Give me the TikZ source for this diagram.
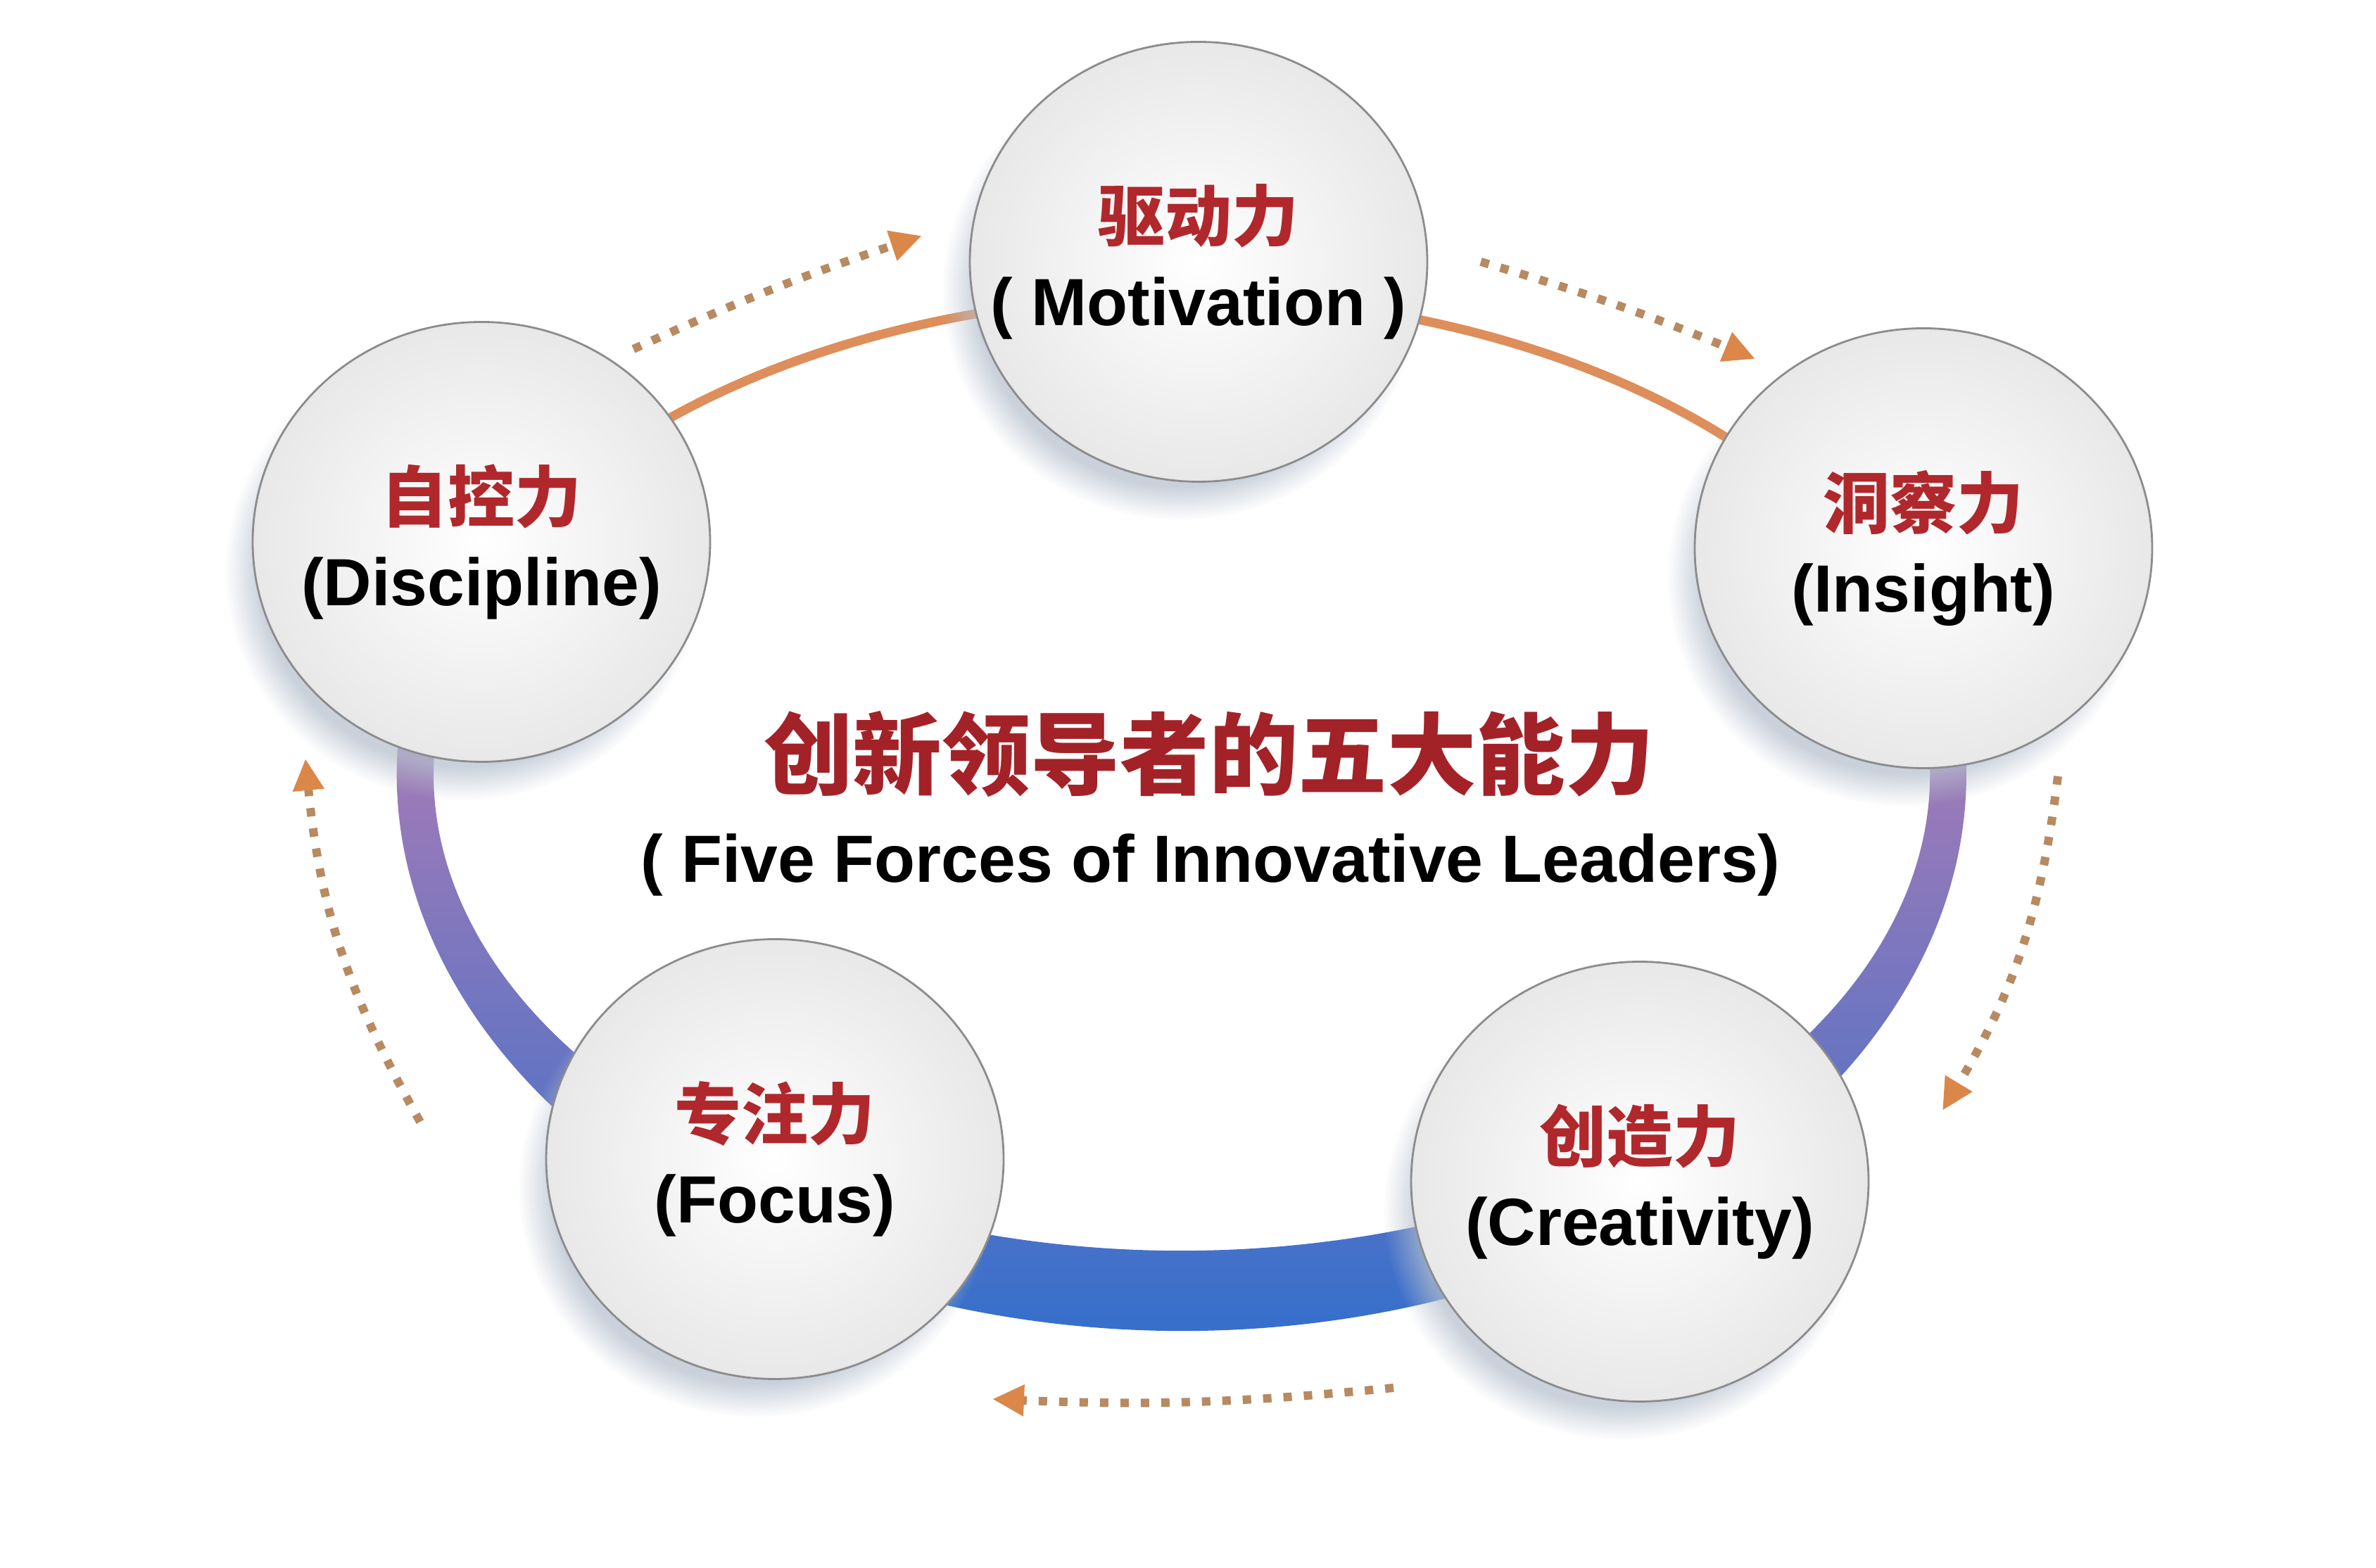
\documentclass[tikz,border=0pt]{standalone}
\usepackage{fontspec}
\setmainfont{Liberation Sans}
\newfontfamily\cjk{Noto Sans CJK SC}
\usepackage{xcolor}
\usetikzlibrary{calc,shapes.geometric,arrows.meta,shadows}
\definecolor{labelred}{HTML}{B0282C}
\definecolor{titlered}{HTML}{A32228}
\definecolor{ringorange}{HTML}{DE8E5A}
\definecolor{bandtop}{HTML}{B87DB3}
\definecolor{bandmid}{HTML}{7873C6}
\definecolor{bandbot}{HTML}{2A6ECE}
\definecolor{dotbrown}{HTML}{B88A62}
\definecolor{tiporange}{HTML}{DB874A}
\definecolor{shadowblue}{HTML}{B4BECC}

\begin{document}
\begin{tikzpicture}[ballnode/.style={ellipse, draw=black!45, line width=0.8pt, shading=radial, inner color=white, outer color=black!9, minimum width=6.5cm, minimum height=6.25cm, inner sep=0pt, circular drop shadow={shadow xshift=-0.25cm, shadow yshift=-0.4cm, shadow scale=1.04, fill=shadowblue, opacity=0.7}},
                    balltext/.style={align=center, inner sep=0pt, font=\fontsize{27}{34}\selectfont\bfseries}]
            \useasboundingbox[fill=white] (0,0) rectangle (33.76,22.28);

            % ring behind the balls
            \coordinate (ringc) at (16.79,11.28);
            \draw[ringorange, line width=0.13cm] ($(ringc)+(154:10.90 and 6.79)$) arc[start angle=154, end angle=26, x radius=10.90, y radius=6.79];
            \shade[top color=bandtop, middle color=bandmid, bottom color=bandbot] ($(ringc)+(165:11.15 and 7.91)$) arc[start angle=165, end angle=375, x radius=11.15, y radius=7.91] -- ($(ringc)+(15:10.63 and 6.77)$) arc[start angle=15, end angle=-195, x radius=10.63, y radius=6.77] -- cycle;

            \node[ballnode] (M) at (17.03,18.56) {};
            \node[ballnode] (D) at (6.84,14.58) {};
            \node[ballnode] (I) at (27.33,14.49) {};
            \node[ballnode] (C) at (23.30,5.49) {};
            \node[ballnode] (F) at (11.01,5.81) {};

            \node[balltext] (Mtext) at (M) {{\cjk\color{labelred}驱动力}\\( Motivation )};
            \node[balltext] (Dtext) at (D) {{\cjk\color{labelred}自控力}\\(Discipline)};
            \node[balltext] (Itext) at (I) {{\cjk\color{labelred}洞察力}\\(Insight)};
            \node[balltext] (Ctext) at (C) {{\cjk\color{labelred}创造力}\\(Creativity)};
            \node[balltext] (Ftext) at (F) {{\cjk\color{labelred}专注力}\\(Focus)};

            \node[font=\fontsize{36}{40}\selectfont\bfseries\cjk, text=titlered] (T) at (17.18,11.56) {创新领导者的五大能力};
            \node[font=\fontsize{27}{32}\selectfont\bfseries] (S) at (17.20,9.99) {( Five Forces of Innovative Leaders)};

            % dotted arrows round the ring
            \tikzset{flowarrow/.style={dotbrown, line width=0.12cm, dash pattern=on 0.12cm off 0.17cm, -{Triangle[length=0.45cm,width=0.42cm,color=tiporange]}}}
            \coordinate (d1) at (9.00,17.32);
            \coordinate (m1) at (13.10,18.93);
            \coordinate (m2) at (21.04,18.56);
            \coordinate (i1) at (24.94,17.18);
            \coordinate (i2) at (29.24,11.25);
            \coordinate (c1) at (27.60,6.50);
            \coordinate (c2) at (19.80,2.56);
            \coordinate (f1) at (14.10,2.40);
            \coordinate (f2) at (5.97,6.34);
            \coordinate (d2) at (4.34,11.50);

            \draw[flowarrow] (d1) to[bend left=3] (m1);
            \draw[flowarrow] (m2) to[bend left=3] (i1);
            \draw[flowarrow] (i2) to[bend left=12] (c1);
            \draw[flowarrow] (c2) to[bend left=4] (f1);
            \draw[flowarrow] (f2) to[bend left=12] (d2);

        \end{tikzpicture}
\end{document}
